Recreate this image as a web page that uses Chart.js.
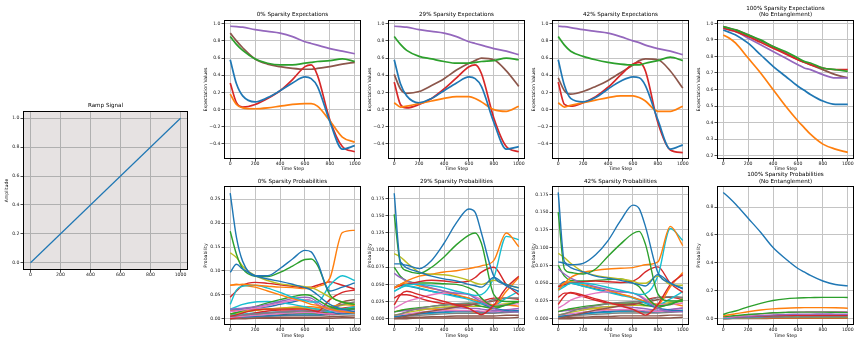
<!DOCTYPE html>
<html>
<head>
<meta charset="utf-8">
<script src="https://cdn.jsdelivr.net/npm/chart.js@4.4.1/dist/chart.umd.min.js"></script>
<style>
  body { margin: 0; background: #fff; width: 861px; height: 346px; overflow: hidden; position: relative; }
  canvas { position: absolute; }
</style>
</head>
<body>
<script>
// tab10 colours
const palette = ['#1f77b4', '#ff7f0e', '#2ca02c', '#d62728', '#9467bd', '#8c564b', '#e377c2', '#7f7f7f', '#bcbd22', '#17becf'];

const steps = [0, 50, 100, 200, 300, 400, 500, 600, 650, 700, 800, 900, 1000];
const stepTicks = [0, 200, 400, 600, 800, 1000];

// Ramp signal
const rampSteps = [0, 1000];
const rampValues = [0.0, 1.0];
const rampTicks = [0.0, 0.2, 0.4, 0.6, 0.8, 1.0];

// Expectation values, order: blue, orange, green, red, purple, brown
const expColors = [0, 1, 2, 3, 4, 5];
const exp0 = [
    [0.58, 0.30, 0.16, 0.09, 0.14, 0.22, 0.31, 0.38, 0.36, 0.27, -0.14, -0.46, -0.42],
    [0.18, 0.06, 0.02, 0.01, 0.02, 0.04, 0.06, 0.07, 0.07, 0.04, -0.13, -0.32, -0.38],
    [0.85, 0.76, 0.69, 0.59, 0.54, 0.52, 0.52, 0.54, 0.55, 0.56, 0.57, 0.59, 0.56],
    [0.31, 0.08, 0.03, 0.06, 0.13, 0.22, 0.35, 0.50, 0.52, 0.40, -0.12, -0.43, -0.49],
    [0.97, 0.965, 0.96, 0.93, 0.91, 0.89, 0.85, 0.79, 0.77, 0.75, 0.71, 0.68, 0.65],
    [0.89, 0.80, 0.72, 0.59, 0.53, 0.50, 0.48, 0.47, 0.47, 0.48, 0.50, 0.53, 0.55]
];
const exp29 = [
    [0.58, 0.30, 0.16, 0.08, 0.13, 0.22, 0.31, 0.38, 0.36, 0.27, -0.15, -0.46, -0.43],
    [0.08, 0.03, 0.04, 0.07, 0.10, 0.13, 0.15, 0.15, 0.13, 0.09, 0.0, -0.02, 0.04],
    [0.85, 0.76, 0.69, 0.62, 0.59, 0.56, 0.54, 0.54, 0.55, 0.56, 0.57, 0.60, 0.58],
    [0.32, 0.06, 0.02, 0.06, 0.13, 0.24, 0.37, 0.50, 0.52, 0.42, -0.10, -0.43, -0.49],
    [0.97, 0.965, 0.96, 0.93, 0.91, 0.89, 0.85, 0.79, 0.77, 0.75, 0.71, 0.68, 0.64],
    [0.41, 0.24, 0.19, 0.21, 0.28, 0.36, 0.46, 0.54, 0.57, 0.60, 0.58, 0.45, 0.27]
];
const exp42 = [
    [0.58, 0.28, 0.13, 0.09, 0.14, 0.24, 0.33, 0.38, 0.37, 0.28, -0.12, -0.46, -0.41],
    [0.08, 0.03, 0.05, 0.08, 0.11, 0.14, 0.16, 0.16, 0.14, 0.10, -0.02, -0.02, 0.04],
    [0.85, 0.75, 0.68, 0.62, 0.58, 0.55, 0.53, 0.52, 0.52, 0.54, 0.57, 0.61, 0.57],
    [0.32, 0.06, 0.04, 0.08, 0.15, 0.26, 0.40, 0.53, 0.55, 0.45, -0.15, -0.47, -0.50],
    [0.97, 0.965, 0.955, 0.93, 0.91, 0.89, 0.85, 0.80, 0.78, 0.75, 0.71, 0.68, 0.64],
    [0.37, 0.22, 0.18, 0.21, 0.27, 0.34, 0.43, 0.52, 0.57, 0.59, 0.58, 0.45, 0.25]
];
const exp100 = [
    [0.96, 0.945, 0.93, 0.88, 0.81, 0.74, 0.68, 0.62, 0.595, 0.57, 0.53, 0.51, 0.51],
    [0.93, 0.91, 0.88, 0.79, 0.70, 0.60, 0.50, 0.41, 0.37, 0.33, 0.27, 0.24, 0.22],
    [0.98, 0.97, 0.96, 0.93, 0.90, 0.86, 0.83, 0.79, 0.77, 0.76, 0.73, 0.72, 0.71],
    [0.97, 0.96, 0.95, 0.92, 0.885, 0.85, 0.815, 0.78, 0.765, 0.75, 0.73, 0.72, 0.72],
    [0.97, 0.96, 0.95, 0.91, 0.87, 0.83, 0.79, 0.75, 0.73, 0.72, 0.69, 0.67, 0.67],
    [0.98, 0.97, 0.96, 0.93, 0.895, 0.86, 0.82, 0.78, 0.765, 0.75, 0.72, 0.69, 0.67]
];
const expTicks = [-0.4, -0.2, 0.0, 0.2, 0.4, 0.6, 0.8, 1.0];
const exp100Ticks = [0.2, 0.3, 0.4, 0.5, 0.6, 0.7, 0.8, 0.9, 1.0];

// State probabilities
const prob0Colors = [0, 0, 2, 8, 1, 9, 3, 1, 4, 6, 2, 3, 7, 9, 0, 8, 1, 4, 6, 3, 2, 0, 7, 9, 3, 5, 5, 5];
const prob0 = [
    [0.263, 0.17, 0.12, 0.09, 0.09, 0.105, 0.125, 0.143, 0.14, 0.118, 0.058, 0.066, 0.075],
    [0.097, 0.114, 0.104, 0.09, 0.083, 0.078, 0.072, 0.065, 0.06, 0.05, 0.03, 0.02, 0.015],
    [0.183, 0.135, 0.105, 0.089, 0.088, 0.097, 0.11, 0.124, 0.125, 0.112, 0.05, 0.035, 0.03],
    [0.138, 0.128, 0.11, 0.09, 0.08, 0.073, 0.07, 0.067, 0.065, 0.06, 0.045, 0.035, 0.03],
    [0.07, 0.071, 0.072, 0.07, 0.068, 0.066, 0.065, 0.063, 0.063, 0.067, 0.085, 0.18, 0.185],
    [0.03, 0.06, 0.068, 0.07, 0.064, 0.055, 0.045, 0.038, 0.035, 0.035, 0.07, 0.09, 0.08],
    [0.045, 0.058, 0.07, 0.076, 0.074, 0.071, 0.068, 0.065, 0.066, 0.07, 0.077, 0.07, 0.062],
    [0.07, 0.072, 0.07, 0.066, 0.058, 0.05, 0.042, 0.035, 0.03, 0.028, 0.02, 0.015, 0.012],
    [0.02, 0.021, 0.022, 0.025, 0.03, 0.036, 0.042, 0.045, 0.043, 0.035, 0.02, 0.015, 0.015],
    [0.015, 0.016, 0.018, 0.022, 0.027, 0.033, 0.038, 0.04, 0.038, 0.03, 0.018, 0.015, 0.015],
    [0.01, 0.013, 0.017, 0.025, 0.033, 0.04, 0.046, 0.05, 0.048, 0.04, 0.025, 0.02, 0.02],
    [0.005, 0.008, 0.012, 0.018, 0.02, 0.02, 0.02, 0.02, 0.018, 0.015, 0.04, 0.055, 0.06],
    [0.005, 0.006, 0.008, 0.01, 0.012, 0.014, 0.015, 0.016, 0.016, 0.016, 0.02, 0.03, 0.035],
    [0.02, 0.025, 0.03, 0.035, 0.036, 0.034, 0.03, 0.025, 0.022, 0.02, 0.015, 0.02, 0.025],
    [0.02, 0.02, 0.02, 0.022, 0.025, 0.03, 0.035, 0.04, 0.038, 0.03, 0.015, 0.01, 0.01],
    [0.01, 0.012, 0.014, 0.017, 0.02, 0.022, 0.023, 0.022, 0.021, 0.02, 0.022, 0.028, 0.03],
    [0.01, 0.012, 0.015, 0.018, 0.02, 0.022, 0.024, 0.025, 0.025, 0.024, 0.025, 0.03, 0.028],
    [0.005, 0.006, 0.008, 0.01, 0.012, 0.014, 0.016, 0.018, 0.018, 0.017, 0.015, 0.017, 0.02],
    [0.003, 0.004, 0.005, 0.007, 0.009, 0.011, 0.012, 0.013, 0.013, 0.012, 0.01, 0.012, 0.015],
    [0.0, 0.002, 0.005, 0.012, 0.016, 0.018, 0.018, 0.016, 0.015, 0.013, 0.01, 0.012, 0.015],
    [0.004, 0.005, 0.006, 0.008, 0.01, 0.011, 0.012, 0.012, 0.012, 0.011, 0.015, 0.02, 0.022],
    [0.002, 0.003, 0.004, 0.005, 0.006, 0.007, 0.008, 0.008, 0.008, 0.008, 0.01, 0.012, 0.014],
    [0.002, 0.002, 0.003, 0.004, 0.005, 0.006, 0.007, 0.007, 0.007, 0.007, 0.008, 0.01, 0.012],
    [0.008, 0.009, 0.01, 0.012, 0.013, 0.014, 0.013, 0.012, 0.011, 0.011, 0.013, 0.018, 0.02],
    [0.018, 0.018, 0.018, 0.019, 0.02, 0.021, 0.021, 0.021, 0.021, 0.02, 0.02, 0.022, 0.025],
    [0.0, 0.001, 0.002, 0.004, 0.006, 0.008, 0.01, 0.012, 0.012, 0.012, 0.02, 0.035, 0.04],
    [0.001, 0.001, 0.001, 0.002, 0.002, 0.003, 0.003, 0.003, 0.003, 0.003, 0.004, 0.005, 0.006],
    [0.0, 0.0, 0.0, 0.001, 0.001, 0.001, 0.001, 0.001, 0.001, 0.001, 0.001, 0.002, 0.002]
];
const prob29Colors = [0, 0, 2, 8, 1, 9, 3, 3, 4, 2, 1, 6, 9, 0, 7, 5, 3, 2, 8, 4, 6, 0, 1, 7, 9, 5, 5];
const prob29 = [
    [0.183, 0.083, 0.078, 0.073, 0.085, 0.11, 0.14, 0.16, 0.155, 0.125, 0.062, 0.05, 0.045],
    [0.08, 0.08, 0.074, 0.068, 0.062, 0.058, 0.055, 0.05, 0.048, 0.046, 0.06, 0.048, 0.04],
    [0.152, 0.08, 0.07, 0.066, 0.075, 0.09, 0.108, 0.122, 0.125, 0.11, 0.035, 0.025, 0.025],
    [0.095, 0.09, 0.082, 0.068, 0.065, 0.064, 0.061, 0.056, 0.052, 0.05, 0.056, 0.05, 0.045],
    [0.045, 0.05, 0.055, 0.062, 0.065, 0.068, 0.07, 0.073, 0.075, 0.077, 0.085, 0.125, 0.105],
    [0.04, 0.045, 0.05, 0.05, 0.048, 0.045, 0.04, 0.036, 0.034, 0.035, 0.06, 0.12, 0.115],
    [0.045, 0.048, 0.05, 0.054, 0.056, 0.055, 0.053, 0.055, 0.06, 0.068, 0.075, 0.05, 0.035],
    [0.02, 0.035, 0.04, 0.035, 0.03, 0.025, 0.02, 0.015, 0.01, 0.006, 0.02, 0.045, 0.062],
    [0.066, 0.06, 0.055, 0.05, 0.045, 0.04, 0.037, 0.035, 0.03, 0.025, 0.015, 0.01, 0.01],
    [0.075, 0.062, 0.055, 0.052, 0.052, 0.051, 0.05, 0.045, 0.04, 0.03, 0.018, 0.02, 0.025],
    [0.045, 0.05, 0.052, 0.048, 0.044, 0.04, 0.035, 0.03, 0.027, 0.025, 0.02, 0.04, 0.06],
    [0.015, 0.02, 0.025, 0.03, 0.035, 0.037, 0.037, 0.035, 0.032, 0.028, 0.02, 0.02, 0.022],
    [0.04, 0.045, 0.048, 0.045, 0.04, 0.036, 0.032, 0.028, 0.025, 0.022, 0.02, 0.03, 0.04],
    [0.045, 0.05, 0.048, 0.044, 0.04, 0.037, 0.033, 0.03, 0.027, 0.022, 0.015, 0.012, 0.01],
    [0.005, 0.007, 0.01, 0.015, 0.018, 0.02, 0.022, 0.023, 0.023, 0.023, 0.028, 0.03, 0.03],
    [0.0, 0.002, 0.004, 0.008, 0.011, 0.014, 0.017, 0.02, 0.021, 0.022, 0.026, 0.03, 0.03],
    [0.03, 0.035, 0.035, 0.03, 0.025, 0.022, 0.02, 0.02, 0.022, 0.025, 0.03, 0.03, 0.028],
    [0.01, 0.012, 0.014, 0.016, 0.018, 0.02, 0.021, 0.022, 0.02, 0.018, 0.015, 0.02, 0.025],
    [0.005, 0.007, 0.009, 0.012, 0.015, 0.017, 0.018, 0.018, 0.018, 0.018, 0.02, 0.022, 0.024],
    [0.01, 0.011, 0.012, 0.014, 0.015, 0.016, 0.016, 0.015, 0.015, 0.014, 0.012, 0.013, 0.015],
    [0.005, 0.006, 0.007, 0.009, 0.011, 0.012, 0.012, 0.012, 0.012, 0.011, 0.01, 0.012, 0.015],
    [0.003, 0.004, 0.005, 0.007, 0.009, 0.01, 0.011, 0.011, 0.011, 0.01, 0.01, 0.011, 0.012],
    [0.01, 0.012, 0.013, 0.014, 0.014, 0.013, 0.012, 0.011, 0.01, 0.01, 0.015, 0.02, 0.018],
    [0.002, 0.003, 0.004, 0.005, 0.006, 0.007, 0.008, 0.008, 0.008, 0.008, 0.008, 0.009, 0.01],
    [0.003, 0.004, 0.005, 0.007, 0.008, 0.009, 0.01, 0.01, 0.01, 0.009, 0.009, 0.01, 0.011],
    [0.001, 0.001, 0.002, 0.002, 0.003, 0.003, 0.004, 0.004, 0.004, 0.004, 0.004, 0.005, 0.005],
    [0.0, 0.0, 0.0, 0.001, 0.001, 0.001, 0.001, 0.001, 0.001, 0.001, 0.001, 0.001, 0.002]
];
const prob42Colors = [0, 0, 2, 8, 1, 9, 3, 3, 4, 2, 1, 6, 9, 0, 7, 5, 3, 2, 8, 4, 6, 0, 1, 7, 9, 5, 5];
const prob42 = [
    [0.178, 0.08, 0.076, 0.078, 0.09, 0.11, 0.138, 0.16, 0.155, 0.13, 0.065, 0.05, 0.043],
    [0.08, 0.078, 0.072, 0.066, 0.06, 0.057, 0.054, 0.05, 0.048, 0.046, 0.062, 0.05, 0.042],
    [0.15, 0.07, 0.065, 0.063, 0.07, 0.088, 0.105, 0.12, 0.123, 0.105, 0.035, 0.025, 0.025],
    [0.092, 0.086, 0.078, 0.066, 0.061, 0.058, 0.056, 0.053, 0.05, 0.05, 0.06, 0.048, 0.047],
    [0.04, 0.05, 0.058, 0.065, 0.068, 0.07, 0.071, 0.072, 0.074, 0.076, 0.08, 0.13, 0.103],
    [0.04, 0.045, 0.05, 0.05, 0.048, 0.044, 0.04, 0.036, 0.034, 0.035, 0.06, 0.127, 0.11],
    [0.045, 0.048, 0.05, 0.052, 0.053, 0.052, 0.051, 0.053, 0.058, 0.066, 0.073, 0.05, 0.037],
    [0.02, 0.032, 0.037, 0.033, 0.028, 0.023, 0.018, 0.013, 0.009, 0.005, 0.02, 0.048, 0.062],
    [0.07, 0.063, 0.057, 0.05, 0.045, 0.041, 0.038, 0.036, 0.032, 0.026, 0.015, 0.01, 0.01],
    [0.075, 0.06, 0.054, 0.053, 0.054, 0.055, 0.056, 0.05, 0.045, 0.033, 0.018, 0.02, 0.028],
    [0.045, 0.05, 0.052, 0.048, 0.044, 0.04, 0.035, 0.03, 0.027, 0.025, 0.02, 0.045, 0.065],
    [0.015, 0.02, 0.026, 0.032, 0.036, 0.038, 0.038, 0.036, 0.033, 0.028, 0.02, 0.02, 0.022],
    [0.042, 0.047, 0.05, 0.046, 0.041, 0.037, 0.033, 0.029, 0.026, 0.022, 0.02, 0.028, 0.038],
    [0.045, 0.052, 0.05, 0.046, 0.042, 0.038, 0.034, 0.03, 0.027, 0.022, 0.015, 0.012, 0.01],
    [0.005, 0.007, 0.01, 0.015, 0.018, 0.021, 0.023, 0.024, 0.024, 0.024, 0.03, 0.031, 0.03],
    [0.0, 0.002, 0.004, 0.008, 0.012, 0.015, 0.018, 0.021, 0.022, 0.023, 0.027, 0.031, 0.03],
    [0.03, 0.036, 0.036, 0.031, 0.026, 0.022, 0.02, 0.02, 0.022, 0.026, 0.03, 0.03, 0.027],
    [0.01, 0.012, 0.014, 0.017, 0.019, 0.021, 0.022, 0.022, 0.021, 0.019, 0.016, 0.021, 0.026],
    [0.005, 0.007, 0.009, 0.012, 0.015, 0.017, 0.018, 0.019, 0.019, 0.018, 0.02, 0.023, 0.024],
    [0.01, 0.011, 0.012, 0.014, 0.016, 0.017, 0.017, 0.016, 0.015, 0.014, 0.012, 0.013, 0.015],
    [0.005, 0.006, 0.007, 0.009, 0.011, 0.012, 0.013, 0.013, 0.012, 0.011, 0.01, 0.012, 0.015],
    [0.003, 0.004, 0.005, 0.007, 0.009, 0.01, 0.011, 0.011, 0.011, 0.01, 0.01, 0.011, 0.012],
    [0.01, 0.012, 0.013, 0.014, 0.014, 0.013, 0.012, 0.011, 0.01, 0.01, 0.015, 0.021, 0.018],
    [0.002, 0.003, 0.004, 0.005, 0.006, 0.007, 0.008, 0.008, 0.008, 0.008, 0.008, 0.009, 0.01],
    [0.003, 0.004, 0.005, 0.007, 0.008, 0.009, 0.01, 0.01, 0.01, 0.009, 0.009, 0.01, 0.011],
    [0.001, 0.001, 0.002, 0.002, 0.003, 0.003, 0.004, 0.004, 0.004, 0.004, 0.004, 0.005, 0.005],
    [0.0, 0.0, 0.0, 0.001, 0.001, 0.001, 0.001, 0.001, 0.001, 0.001, 0.001, 0.001, 0.002]
];
const prob100Colors = [0, 2, 1, 2, 6, 4, 3, 9, 7, 8, 0, 1, 5, 5];
const prob100 = [
    [0.905, 0.865, 0.82, 0.72, 0.62, 0.51, 0.43, 0.36, 0.335, 0.31, 0.27, 0.245, 0.235],
    [0.03, 0.045, 0.055, 0.085, 0.11, 0.13, 0.142, 0.148, 0.15, 0.151, 0.153, 0.153, 0.152],
    [0.02, 0.028, 0.035, 0.05, 0.062, 0.07, 0.075, 0.078, 0.079, 0.079, 0.079, 0.078, 0.075],
    [0.015, 0.018, 0.022, 0.03, 0.036, 0.042, 0.045, 0.047, 0.047, 0.047, 0.047, 0.046, 0.045],
    [0.01, 0.013, 0.017, 0.025, 0.033, 0.04, 0.045, 0.048, 0.049, 0.05, 0.05, 0.05, 0.05],
    [0.008, 0.01, 0.012, 0.017, 0.022, 0.027, 0.03, 0.032, 0.033, 0.033, 0.034, 0.033, 0.032],
    [0.01, 0.011, 0.012, 0.015, 0.018, 0.02, 0.022, 0.024, 0.025, 0.025, 0.025, 0.025, 0.025],
    [0.005, 0.006, 0.008, 0.012, 0.016, 0.019, 0.021, 0.023, 0.024, 0.024, 0.025, 0.025, 0.025],
    [0.002, 0.003, 0.004, 0.006, 0.008, 0.01, 0.012, 0.013, 0.014, 0.014, 0.015, 0.015, 0.015],
    [0.003, 0.004, 0.005, 0.007, 0.009, 0.011, 0.012, 0.013, 0.013, 0.014, 0.014, 0.014, 0.014],
    [0.003, 0.004, 0.005, 0.007, 0.009, 0.01, 0.011, 0.012, 0.012, 0.012, 0.012, 0.012, 0.012],
    [0.002, 0.003, 0.003, 0.004, 0.005, 0.006, 0.007, 0.007, 0.007, 0.007, 0.007, 0.007, 0.007],
    [0.001, 0.002, 0.002, 0.003, 0.004, 0.005, 0.006, 0.006, 0.006, 0.006, 0.007, 0.007, 0.007],
    [0.0, 0.0, 0.001, 0.001, 0.001, 0.002, 0.002, 0.002, 0.002, 0.002, 0.002, 0.002, 0.002]
];
const prob0Ticks = [0.0, 0.05, 0.10, 0.15, 0.20, 0.25];
const prob29Ticks = [0.0, 0.025, 0.05, 0.075, 0.10, 0.125, 0.15, 0.175];
const prob100Ticks = [0.0, 0.2, 0.4, 0.6, 0.8];

const FONT = "'DejaVu Sans', sans-serif";
const LINE_H = 1.2;

// frame round the plot area, optional background
const framePlugin = {
    id: 'frame',
    beforeDraw(chart, args, opts) {
        if (!opts.bg) return;
        const a = chart.chartArea;
        chart.ctx.save();
        chart.ctx.fillStyle = opts.bg;
        chart.ctx.fillRect(a.left, a.top, a.right - a.left, a.bottom - a.top);
        chart.ctx.restore();
    },
    afterDraw(chart) {
        const a = chart.chartArea, ctx = chart.ctx;
        ctx.save();
        ctx.strokeStyle = '#000';
        ctx.lineWidth = 1;
        ctx.strokeRect(a.left + 0.5, a.top + 0.5, a.right - a.left - 1, a.bottom - a.top - 1);
        ctx.restore();
    }
};

function fmt(dec) {
    return v => Number(v).toFixed(dec).replace('-', '\u2212');
}

function makePanel(p) {
    const topSpace = 20, rightPad = 7;
    const canvas = document.createElement('canvas');
    canvas.width = p.yw + (p.R - p.L) + rightPad;
    canvas.height = topSpace + (p.B - p.T) + p.xh;
    canvas.style.left = (p.L - p.yw) + 'px';
    canvas.style.top = (p.T - topSpace) + 'px';
    document.body.appendChild(canvas);

    const titleSize = 5.6, tickSize = 4.6;
    const nLines = p.title.length;
    const tickFont = { family: FONT, size: tickSize, lineHeight: LINE_H };
    const gridOpts = { color: p.gridColor || '#c4c4c4', lineWidth: 1, drawTicks: true, tickLength: 2.5, tickColor: '#222', tickWidth: 0.8 };

    const datasets = p.series.map((vals, i) => ({
        data: vals.map((v, j) => ({ x: p.xs[j], y: v })),
        borderColor: palette[p.colors[i]],
        borderWidth: p.lw,
        pointRadius: 0,
        fill: false,
        cubicInterpolationMode: 'monotone'
    }));

    new Chart(canvas, {
        type: 'line',
        data: { datasets },
        plugins: [framePlugin],
        options: {
            responsive: false,
            animation: false,
            devicePixelRatio: 1,
            events: [],
            layout: { padding: { left: 0, right: rightPad, top: 0, bottom: 0 } },
            plugins: {
                legend: { display: false },
                tooltip: { enabled: false },
                frame: { bg: p.bg || null },
                title: {
                    display: true,
                    text: p.title,
                    fullSize: false,
                    color: '#000',
                    font: { family: FONT, size: titleSize, weight: 'normal', lineHeight: LINE_H },
                    padding: { top: topSpace - nLines * titleSize * LINE_H - p.titleGap, bottom: p.titleGap }
                }
            },
            scales: {
                x: {
                    type: 'linear',
                    min: -50,
                    max: 1050,
                    afterBuildTicks: axis => { axis.ticks = stepTicks.map(v => ({ value: v })); },
                    afterFit: axis => { axis.height = p.xh; },
                    grid: gridOpts,
                    border: { display: false },
                    ticks: { font: tickFont, color: '#222', padding: 0, maxRotation: 0, autoSkip: false, callback: v => String(v) },
                    title: {
                        display: !!p.xTitle,
                        text: p.xTitle || '',
                        color: '#000',
                        font: tickFont,
                        padding: { top: 0, bottom: p.xTitleGap || 0 }
                    }
                },
                y: {
                    min: p.yMin,
                    max: p.yMax,
                    afterBuildTicks: axis => { axis.ticks = p.yTicks.map(v => ({ value: v })); },
                    afterFit: axis => { axis.width = p.yw; },
                    grid: gridOpts,
                    border: { display: false },
                    ticks: { font: tickFont, color: '#222', padding: 1, autoSkip: false, callback: fmt(p.dec) },
                    title: {
                        display: true,
                        text: p.yTitle,
                        color: '#000',
                        font: tickFont,
                        padding: { top: p.yTitleOff, bottom: 0 }
                    }
                }
            }
        }
    });
}

// ramp
makePanel({
    L: 23, R: 188, T: 111, B: 270, yw: 23, xh: 9,
    xs: rampSteps, series: [rampValues], colors: [0], lw: 1.2,
    yMin: -0.05, yMax: 1.05, yTicks: rampTicks, dec: 1,
    title: ['Ramp Signal'], titleGap: 2, yTitle: 'Amplitude', yTitleOff: 4.3,
    bg: '#e6e2e2', gridColor: '#b0b0b0'
});

const colsL = [224, 388, 552, 717];
const expSets = [exp0, exp29, exp42, exp100];
const expTitles = [['0% Sparsity Expectations'], ['29% Sparsity Expectations'], ['42% Sparsity Expectations'], ['100% Sparsity Expectations', '(No Entanglement)']];
const expRanges = [[-0.575, 1.043], [-0.575, 1.043], [-0.575, 1.043], [0.18, 1.02]];
expSets.forEach((set, i) => {
    makePanel({
        L: colsL[i], R: colsL[i] + 137, T: 20, B: 159, yw: 26, xh: 14,
        xs: steps, series: set, colors: expColors, lw: 1.7,
        yMin: expRanges[i][0], yMax: expRanges[i][1], yTicks: i === 3 ? exp100Ticks : expTicks, dec: 1,
        title: expTitles[i], titleGap: 1.7, yTitle: 'Expectation Values', yTitleOff: 4.8,
        xTitle: 'Time Step', xTitleGap: 1
    });
});

const probSets = [prob0, prob29, prob42, prob100];
const probColorSets = [prob0Colors, prob29Colors, prob42Colors, prob100Colors];
const probTitles = [['0% Sparsity Probabilities'], ['29% Sparsity Probabilities'], ['42% Sparsity Probabilities'], ['100% Sparsity Probabilities', '(No Entanglement)']];
const probRanges = [[-0.0132, 0.2778], [-0.0092, 0.1935], [-0.0089, 0.1869], [-0.0453, 0.9513]];
const probTickSets = [prob0Ticks, prob29Ticks, prob29Ticks, prob100Ticks];
const probDec = [2, 3, 3, 1];
probSets.forEach((set, i) => {
    makePanel({
        L: colsL[i], R: colsL[i] + 137, T: 186, B: 325, yw: 26, xh: 14,
        xs: steps, series: set, colors: probColorSets[i], lw: 1.4,
        yMin: probRanges[i][0], yMax: probRanges[i][1], yTicks: probTickSets[i], dec: probDec[i],
        title: probTitles[i], titleGap: 1, yTitle: 'Probability', yTitleOff: 4.8,
        xTitle: 'Time Step', xTitleGap: 0
    });
});
</script>
</body>
</html>
